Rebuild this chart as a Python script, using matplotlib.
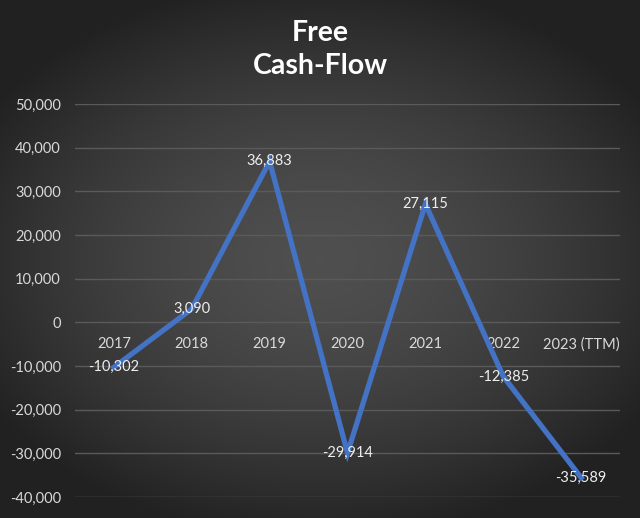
import numpy as np
import matplotlib
matplotlib.use("Agg")
import matplotlib.pyplot as plt
from matplotlib.ticker import FuncFormatter

years = ["2017", "2018", "2019", "2020", "2021", "2022", "2023 (TTM)"]
fcf = [-10302, 3090, 36883, -29914, 27115, -12385, -35589]
y_ticks = [-40000, -30000, -20000, -10000, 0, 10000, 20000, 30000, 40000, 50000]

plt.rcParams['font.family'] = ['Lato', 'DejaVu Sans']

fig = plt.figure(figsize=(6.4, 5.18), dpi=100)

# radial gradient background
bg = fig.add_axes([0, 0, 1, 1], zorder=0)
yy, xx = np.mgrid[-1:1:518j, -1:1:640j]
r = np.sqrt((xx * 0.85) ** 2 + (yy * 0.95) ** 2)
shade = np.clip(0.31 - 0.17 * r ** 1.6, 0.13, 0.31)
bg.imshow(np.dstack([shade, shade, shade]), aspect='auto', extent=[0, 1, 0, 1])
bg.axis('off')

ax = fig.add_axes([0.117, 0.0405, 0.852, 0.7585], zorder=1)
ax.patch.set_alpha(0)
x = np.arange(len(years))
ax.plot(x, fcf, color='#4472C4', lw=3.8, solid_joinstyle='miter', zorder=3)

for xi, v in zip(x, fcf):
    ax.text(xi, v, f"{v:,}", color='#eeeeee', fontsize=10.5,
            ha='center', va='center', zorder=4)

ax.set_xlim(-0.5, len(years) - 0.5)
ax.set_ylim(-40000, 50000)
ax.set_yticks(y_ticks)
ax.yaxis.set_major_formatter(FuncFormatter(lambda v, p: f"{int(v):,}"))
ax.tick_params(axis='y', colors='#d9d9d9', labelsize=10.5, length=0, pad=10)
ax.grid(axis='y', color='#5a5a5a', lw=1)
ax.set_axisbelow(True)
ax.set_xticks([])
for s in ax.spines.values():
    s.set_visible(False)

# category labels sit just below the zero line
for xi, lab in zip(x, years):
    ax.text(xi, -5000, lab, color='#d9d9d9', fontsize=10.5,
            ha='center', va='center', zorder=2)

fig.text(0.5, 0.905, "Free\nCash-Flow", color='white', fontsize=20.5,
         fontweight='bold', ha='center', va='center', linespacing=1.35)

fig.savefig("out.png", dpi=100)
